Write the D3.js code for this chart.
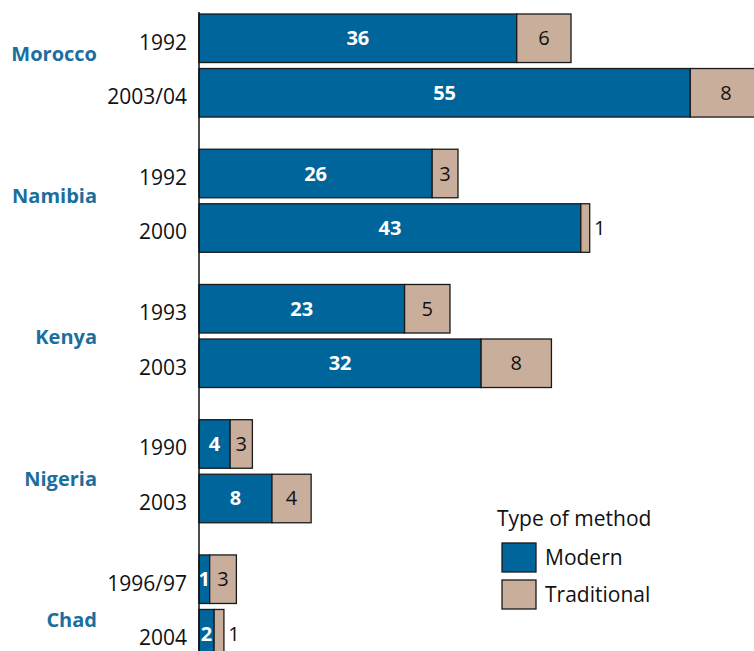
<!DOCTYPE html>
<html>
<head>
<meta charset="utf-8">
<script src="https://cdn.jsdelivr.net/npm/d3@7"></script>
<style>
  html, body { margin: 0; padding: 0; background: #fff; }
  svg { display: block; font-family: "Open Sans", "Noto Sans", sans-serif; }
</style>
</head>
<body>
<svg id="chart" width="754" height="651"></svg>
<script>
// ---- data ----
const countries = ["Morocco", "Namibia", "Kenya", "Nigeria", "Chad"];
const years = [
  ["1992", "2003/04"],
  ["1992", "2000"],
  ["1993", "2003"],
  ["1990", "2003"],
  ["1996/97", "2004"]
];
// values; labels show rounded values
const modern = [
  [35.7, 55.2],
  [26.2, 42.9],
  [23.1, 31.7],
  [3.5, 8.2],
  [1.2, 1.7]
];
const traditional = [
  [6.1, 8.0],
  [2.9, 1.0],
  [5.1, 7.9],
  [2.5, 4.4],
  [3.0, 1.1]
];
const seriesNames = ["Modern", "Traditional"];
const legendTitle = "Type of method";

// ---- styles ----
const colModern = "#00659a";
const colTrad = "#c9ae9c";
const colCountry = "#1b6e9e";

const svg = d3.select("#chart");
const fmt = v => String(Math.round(v));

const x = d3.scaleLinear().domain([0, 60]).range([199, 199 + 534]);

const yOuter = d3.scaleBand()
  .domain(countries)
  .range([14, 14 + 5 * 135.25 - 32.25])
  .paddingInner(0.238)
  .paddingOuter(0);

const yInner = d3.scaleBand()
  .domain([0, 1])
  .range([0, yOuter.bandwidth()])
  .paddingInner(0.11)
  .paddingOuter(0);

const yCountryLabel = d3.scalePoint().domain(countries).range([54, 620]);

const rows = [];
countries.forEach((c, i) => {
  years[i].forEach((yr, j) => {
    rows.push({ country: c, year: yr, j, m: modern[i][j], t: traditional[i][j] });
  });
});

const rowY = d => yOuter(d.country) + yInner(d.j);
const bh = yInner.bandwidth();

// bars
const g = svg.append("g");
rows.forEach(d => {
  const y0 = rowY(d);
  g.append("rect")
    .attr("x", x(0)).attr("y", y0)
    .attr("width", x(d.m) - x(0)).attr("height", bh)
    .attr("fill", colModern).attr("stroke", "#1a1a1a").attr("stroke-width", 1.3);
  g.append("rect")
    .attr("x", x(d.m)).attr("y", y0)
    .attr("width", x(d.m + d.t) - x(d.m)).attr("height", bh)
    .attr("fill", colTrad).attr("stroke", "#1a1a1a").attr("stroke-width", 1.3);

  // modern label
  g.append("text")
    .attr("x", (x(0) + x(d.m)) / 2)
    .attr("y", y0 + bh / 2)
    .attr("dy", "0.35em")
    .attr("text-anchor", "middle")
    .attr("font-size", 20).attr("font-weight", "bold")
    .attr("fill", "#fff")
    .text(fmt(d.m));

  // traditional label
  const inside = d.t >= 2;
  g.append("text")
    .attr("x", inside ? (x(d.m) + x(d.m + d.t)) / 2 : x(d.m + d.t) + 10)
    .attr("y", y0 + bh / 2)
    .attr("dy", "0.35em")
    .attr("text-anchor", "middle")
    .attr("font-size", 20)
    .attr("fill", "#111")
    .text(fmt(d.t));

  // year label
  svg.append("text")
    .attr("x", 187)
    .attr("y", y0 + bh / 2 + 4)
    .attr("dy", "0.35em")
    .attr("text-anchor", "end")
    .attr("font-size", 21)
    .attr("fill", "#111")
    .text(d.year);
});

// country labels
countries.forEach(c => {
  svg.append("text")
    .attr("x", 97)
    .attr("y", yCountryLabel(c))
    .attr("dy", "0.35em")
    .attr("text-anchor", "end")
    .attr("font-size", 20).attr("font-weight", "bold")
    .attr("fill", colCountry)
    .text(c);
});

// left axis line
svg.append("line")
  .attr("x1", x(0)).attr("x2", x(0))
  .attr("y1", 12).attr("y2", 651)
  .attr("stroke", "#111").attr("stroke-width", 1.5);

// legend
const lg = svg.append("g");
lg.append("text")
  .attr("x", 497).attr("y", 526)
  .attr("font-size", 21).attr("fill", "#111")
  .text(legendTitle);
[colModern, colTrad].forEach((col, i) => {
  const ly = 543 + i * 37;
  lg.append("rect")
    .attr("x", 502).attr("y", ly)
    .attr("width", 34).attr("height", 29)
    .attr("fill", col).attr("stroke", "#1a1a1a").attr("stroke-width", 1.3);
  lg.append("text")
    .attr("x", 545).attr("y", ly + 14.5)
    .attr("dy", "0.35em")
    .attr("font-size", 21).attr("fill", "#111")
    .text(seriesNames[i]);
});
</script>
</body>
</html>
